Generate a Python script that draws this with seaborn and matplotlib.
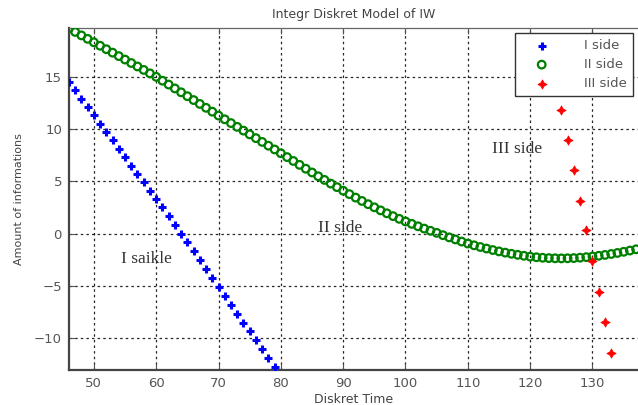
import matplotlib
matplotlib.use("Agg")
import matplotlib.pyplot as plt
import seaborn as sns
import numpy as np
import pandas as pd

# ---- data ----
x_blue = list(range(46, 80))
y_blue = [14.5, 13.7, 12.9, 12.1, 11.3, 10.5, 9.7, 8.9, 8.1, 7.3, 6.5, 5.7, 4.9, 4.1,
          3.3, 2.5, 1.7, 0.85, 0.0, -0.85, -1.7, -2.55, -3.4, -4.25, -5.1, -5.95,
          -6.8, -7.65, -8.5, -9.35, -10.2, -11.05, -11.9, -12.75]

x_green = list(range(46, 138))
y_green = [19.6, 19.27, 18.94, 18.61, 18.28, 17.95, 17.62, 17.29, 16.96, 16.63,
           16.3, 15.97, 15.64, 15.31, 14.98, 14.61, 14.24, 13.87, 13.5, 13.13,
           12.76, 12.39, 12.02, 11.65, 11.28, 10.92, 10.56, 10.2, 9.84, 9.48,
           9.12, 8.76, 8.4, 8.04, 7.68, 7.31, 6.94, 6.57, 6.2, 5.84,
           5.48, 5.13, 4.78, 4.44, 4.1, 3.77, 3.44, 3.12, 2.81, 2.51,
           2.22, 1.94, 1.67, 1.41, 1.16, 0.93, 0.7, 0.48, 0.27, 0.07,
           -0.15, -0.36, -0.56, -0.76, -0.95, -1.12, -1.28, -1.43, -1.57, -1.7,
           -1.82, -1.93, -2.03, -2.12, -2.2, -2.26, -2.31, -2.34, -2.36, -2.37,
           -2.36, -2.34, -2.3, -2.25, -2.19, -2.12, -2.04, -1.95, -1.85, -1.74,
           -1.62, -1.5]

x_red = list(range(125, 134))
y_red = [11.84, 8.97, 6.1, 3.16, 0.38, -2.65, -5.55, -8.49, -11.42]

series_labels = ["I side", "II side", "III side"]
x_ticks = [50, 60, 70, 80, 90, 100, 110, 120, 130]
y_ticks = [-10, -5, 0, 5, 10, 15]
annotations = [("I saikle", 54.4, -2.4), ("II side", 85.9, 0.5), ("III side", 113.8, 8.1)]

# ---- plot ----
sns.set_style("white")
plt.rcParams['font.family'] = ['DejaVu Sans']

fig = plt.figure(figsize=(6.38, 4.05), dpi=100)
ax = fig.add_axes([0.108, 0.086, 0.892, 0.845])

green = "#008000"
sns.scatterplot(x=x_blue, y=y_blue, ax=ax, marker="+", color="#0000ff", s=34,
                linewidth=2.2, label=series_labels[0], zorder=3)
sns.scatterplot(x=x_green, y=y_green, ax=ax, marker="o", facecolor="none",
                edgecolor=green, s=30, linewidth=1.6, label=series_labels[1], zorder=3)
sns.scatterplot(x=x_red, y=y_red, ax=ax, marker=(4, 1, 0), color="#ff0000", s=45,
                linewidth=0.5, edgecolor="#ff0000", label=series_labels[2], zorder=3)

ax.set_xlim(46, 137.3)
ax.set_ylim(-13.05, 19.65)
ax.set_xticks(x_ticks)
ax.set_yticks(y_ticks)
ax.grid(True, color="black", linestyle=(0, (2, 2.5)), linewidth=0.9, alpha=0.85)
ax.set_axisbelow(True)

for s in ["left", "bottom"]:
    ax.spines[s].set_color("#444444")
    ax.spines[s].set_linewidth(1.6)
ax.spines["top"].set_color("#666666")
ax.spines["top"].set_linewidth(0.9)
ax.spines["right"].set_visible(False)

ax.tick_params(direction="in", length=4, colors="#555555", labelsize=9.5,
               top=True, left=True, bottom=True, pad=5)
for lbl in ax.get_xticklabels() + ax.get_yticklabels():
    lbl.set_color("#555555")

ax.set_title("Integr Diskret Model of IW", fontsize=9, color="#444444", pad=7)
ax.set_xlabel("Diskret Time", fontsize=9, color="#444444", labelpad=2)
ax.set_ylabel("Amount of informations", fontsize=8, color="#444444", labelpad=7)

for txt, tx, ty in annotations:
    ax.text(tx, ty, txt, fontsize=12.5, family="Liberation Serif", color="#333333",
            va="center", ha="left", zorder=4)

leg = ax.legend(loc="upper right", fancybox=False, edgecolor="#333333",
                framealpha=1, fontsize=9.5, borderpad=0.45, labelspacing=0.45,
                handletextpad=1.6, handlelength=3.2, borderaxespad=0.4)
leg.get_frame().set_linewidth(1.0)
for t in leg.get_texts():
    t.set_color("#555555")

fig.savefig("out.png", dpi=100)
